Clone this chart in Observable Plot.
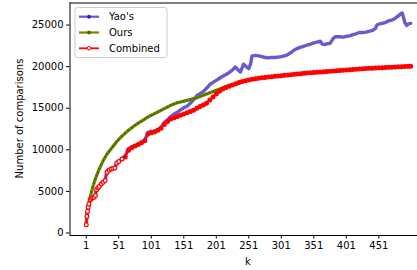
<!DOCTYPE html>
<html><head><meta charset="utf-8">
<script src="https://cdn.jsdelivr.net/npm/d3@7"></script>
<script src="https://cdn.jsdelivr.net/npm/@observablehq/plot@0.6"></script>
<style>
body{margin:0;background:#fff}
#chart{position:relative;width:417px;height:270px;overflow:hidden}
</style>
</head><body><div id="chart"></div>
<script>
// ---- data ----
const xTicks = [1, 51, 101, 151, 201, 251, 301, 351, 401, 451];
const yTicks = [0, 5000, 10000, 15000, 20000, 25000];
const seriesNames = ["Yao's", "Ours", "Combined"];

const kYao = [1,2,3,4,5,7,9,11,13,15,17,19,21,24,27,30,33,36,39,42,45,48,51,56,61,66,71,76,81,86,91,96,101,106,111,116,121,126,131,136,141,146,151,156,161,166,171,176,181,186,191,196,201,206,211,216,221,226,230,234,238,243,247,251,254,256,261,266,271,276,281,286,291,296,301,306,311,316,321,326,331,336,341,346,351,356,361,364,368,371,376,381,384,391,396,401,406,411,416,421,426,431,436,441,446,448,451,456,461,466,471,476,481,484,487,489,491,494,497,500];
const yao = [1000,2000,2600,3100,3500,4000,4150,4300,4350,4600,5300,5500,5650,5950,6150,6400,7450,7600,7750,7800,7850,8500,8650,8950,9300,10150,10350,10500,10700,10900,11200,12100,12200,12250,12400,12700,13300,13600,14000,14300,14500,14800,15050,15250,15600,16000,16500,16750,17000,17400,17850,18100,18350,18600,18850,19050,19300,19600,19950,19650,19350,20300,20000,19750,20400,21300,21350,21300,21200,21100,21050,21100,21100,21150,21200,21300,21450,21700,22000,22200,22350,22450,22600,22700,22850,22950,23050,22700,22650,22750,22800,23400,23600,23600,23550,23650,23700,23850,23950,24100,24100,24150,24250,24350,24600,25000,25100,25200,25300,25500,25600,25800,26100,26300,26450,25900,25300,24950,25150,25200];

const kOurs = [1,2,3,4,5,7,9,11,13,15,17,19,21,24,27,30,33,36,39,42,45,48,51,56,61,66,71,76,81,86,91,96,101,106,111,116,121,126,131,136,141,146,151,156,161,166,171,176,181,186,191,196,201,206,211,216,221,226,231,236];
const ours = [1300,2100,2700,3200,3600,4300,4900,5500,6000,6500,6900,7300,7700,8200,8700,9100,9500,9800,10100,10400,10700,11000,11250,11650,12000,12350,12650,12950,13200,13450,13700,13950,14150,14350,14550,14750,14950,15150,15350,15500,15650,15750,15850,15950,16050,16150,16250,16400,16550,16700,16850,17000,17150,17300,17450,17600,17750,17850,17950,18050];

const kComb = [1,2,3,4,5,7,9,11,13,15,17,19,21,24,27,30,33,36,39,42,45,48,51,56,61,66,71,76,81,86,91,96,101,106,111,116,121,126,131,136,141,146,151,156,161,166,171,176,181,186,191,196,201,206,211,216,221,226,231,236,241,246,251,256,261,266,271,276,281,286,291,296,301,306,311,316,321,326,331,336,341,346,351,356,361,366,371,376,381,386,391,396,401,406,411,416,421,426,431,436,441,446,451,456,461,466,471,476,481,486,491,496,500];
const comb = [1000,2000,2600,3100,3500,4000,4150,4250,4300,4500,5200,5450,5600,5900,6100,6300,7300,7550,7700,7750,7800,8400,8600,8900,9150,9950,10250,10450,10650,10850,11100,11900,12050,12150,12350,12600,13050,13400,13700,13850,14000,14150,14300,14450,14600,14750,15000,15200,15400,15600,16000,16350,16700,17050,17300,17500,17650,17800,17950,18100,18200,18300,18400,18480,18550,18600,18650,18700,18750,18790,18830,18870,18910,18950,18990,19030,19070,19110,19150,19190,19230,19260,19300,19330,19370,19400,19430,19460,19490,19520,19550,19580,19610,19640,19670,19700,19720,19750,19770,19800,19820,19840,19860,19880,19900,19920,19940,19960,19980,20000,20020,20040,20050];

// ---- styling ----
const yaoColor = "#6a5acd", yaoDot = "#1f1fe0";
const oursColor = "#808000", oursDot = "#2f7a00";
const combColor = "#ff0000";
const xDomain = [-24, 510.5];
const yDomain = [-300, 27650];
const openMarkerUntil = 60; // markers are visibly separated only in the steep early part

const toRows = (ks, vs) => ks.map((k, i) => ({k, v: vs[i]}));
const yaoData = toRows(kYao, yao);
const oursData = toRows(kOurs, ours);
const combData = toRows(kComb, comb);

const plot = Plot.plot({
  width: 417, height: 270,
  marginLeft: 69.5, marginRight: 0, marginTop: 2.5, marginBottom: 35,
  style: {fontFamily: "DejaVu Sans", fontSize: "10px", color: "#000", background: "#fff", overflow: "visible"},
  x: {domain: xDomain, ticks: xTicks, tickSize: 3.5, tickPadding: 3, label: null, tickFormat: d3.format("d")},
  y: {domain: yDomain, ticks: yTicks, tickSize: 3.5, tickPadding: 3, label: null, tickFormat: d3.format("d")},
  marks: [
    Plot.line(yaoData, {x: "k", y: "v", stroke: yaoColor, strokeWidth: 3.4}),
    Plot.line(oursData, {x: "k", y: "v", stroke: oursColor, strokeWidth: 3.2}),
    Plot.dot(oursData, {x: "k", y: "v", r: 1.2, fill: oursDot}),
    Plot.line(combData, {x: "k", y: "v", stroke: combColor, strokeWidth: 1.8}),
    Plot.dot(combData, {x: "k", y: "v", r: 1.9, stroke: combColor, strokeWidth: 1.2,
      fill: d => d.k < openMarkerUntil ? "#fff" : combColor}),
    Plot.ruleX([xDomain[0]], {stroke: "#000", strokeWidth: 1}),
    Plot.ruleY([yDomain[0]], {stroke: "#000", strokeWidth: 1}),
    Plot.ruleY([yDomain[1]], {stroke: "#000", strokeWidth: 1})
  ]
});
document.getElementById("chart").append(plot);

// axis titles and legend (layout only)
const svg = d3.select(plot);
svg.append("text").attr("transform", "translate(19,118.5) rotate(-90)")
  .attr("text-anchor", "middle").attr("dy", "0.35em")
  .attr("font-family", "DejaVu Sans").attr("font-size", 10).attr("fill", "#000")
  .text("Number of comparisons");
svg.append("text").attr("x", 248).attr("y", 261).attr("dy", "0.35em")
  .attr("text-anchor", "middle")
  .attr("font-family", "DejaVu Sans").attr("font-size", 10).attr("fill", "#000")
  .text("k");

const lg = svg.append("g").attr("transform", "translate(75,7.5)");
lg.append("rect").attr("width", 92).attr("height", 50).attr("rx", 2.5)
  .attr("fill", "#fff").attr("fill-opacity", 0.8).attr("stroke", "#cccccc").attr("stroke-width", 1);
const entries = [
  {name: seriesNames[0], line: yaoColor, lw: 2.2, dot: yaoDot, df: yaoDot, r: 1.5},
  {name: seriesNames[1], line: oursColor, lw: 2.2, dot: oursDot, df: oursDot, r: 1.5},
  {name: seriesNames[2], line: combColor, lw: 1.8, dot: combColor, df: "#fff", r: 1.8}
];
entries.forEach((e, i) => {
  const y = 9.2 + i * 15.8;
  const g = lg.append("g").attr("transform", `translate(0,${y})`);
  g.append("line").attr("x1", 4).attr("x2", 24).attr("stroke", e.line).attr("stroke-width", e.lw);
  g.append("circle").attr("cx", 14).attr("r", e.r).attr("fill", e.df).attr("stroke", e.dot).attr("stroke-width", 1);
  g.append("text").attr("x", 34).attr("dy", "0.35em").attr("text-anchor", "start")
    .attr("font-family", "DejaVu Sans").attr("font-size", 10).attr("fill", "#000")
    .text(e.name);
});
</script>
</body></html>
